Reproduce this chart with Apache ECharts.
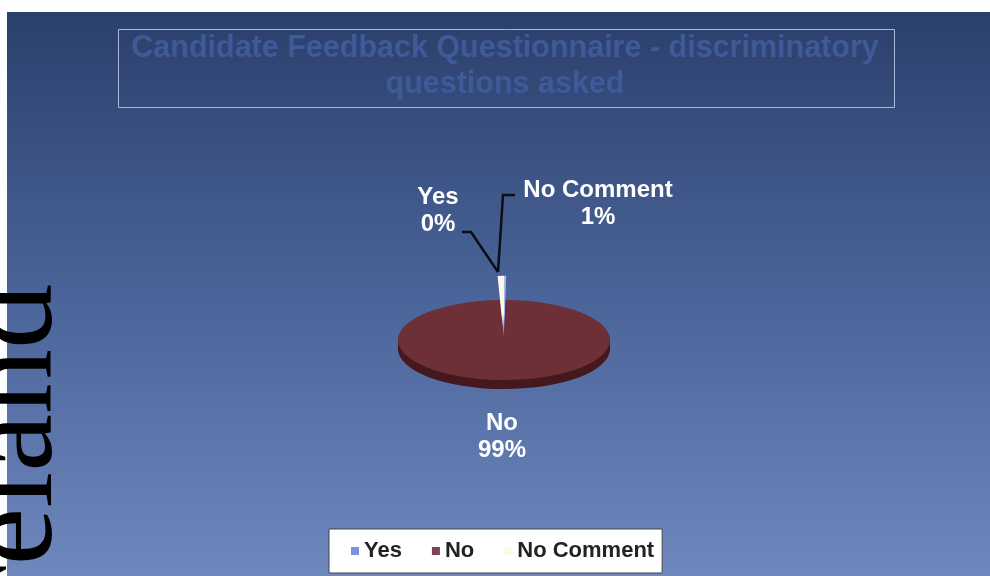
<!DOCTYPE html>
<html>
<head>
<meta charset="utf-8">
<script src="https://cdn.jsdelivr.net/npm/echarts@6/dist/echarts.min.js"></script>
<style>
html,body{margin:0;padding:0;background:#fff;}
#chart{width:990px;height:576px;}
</style>
</head>
<body>
<div id="chart"></div>
<script>
// ---- data ----
const categories = ['Yes', 'No', 'No Comment'];
const values = [0.2, 99.2, 0.6];
const titleText = 'Candidate Feedback Questionnaire - discriminatory\nquestions asked';
const sideText = 'Ireland';

// ---- styles ----
const sliceColors = ['#aab6f2', '#6c3036', '#fbf9e8'];
const legendColors = ['#8090e0', '#7a4656', '#fdfbe6'];
const sideColor = '#45191f';
const FONT = '"Liberation Sans", Arial, sans-serif';

const total = values.reduce((a, b) => a + b, 0);
const cx = 504, cy = 340, rx = 106, ry = 40, depth = 9;
const scaleY = ry / rx;

// label positions (centre of label text) and leader lines
const labelPos = [[438, 211], [502, 437], [598, 204]];
const leaders = [
  [[462, 232], [471, 232], [498, 272]],
  null,
  [[515, 195], [503, 195], [498, 272]]
];

function makeRender(idx) {
  return function (params, api) {
    const v = api.value(0);
    let before = 0;
    for (let i = 0; i < idx; i++) before += values[i];
    const a0 = -Math.PI / 2 + before / total * Math.PI * 2;
    const a1 = a0 + v / total * Math.PI * 2;
    const children = [];
    const big = v / total > 0.5;
    const r = big ? rx : 170;
    if (big) {
      for (let d = depth; d >= 1; d--) {
        children.push({
          type: 'sector',
          x: cx, y: cy + d, scaleY: scaleY,
          shape: {cx: 0, cy: 0, r0: 0, r: r, startAngle: a0, endAngle: a1},
          style: {fill: sideColor}
        });
      }
      children.push({
        type: 'sector',
        x: cx, y: cy, scaleY: scaleY,
        shape: {cx: 0, cy: 0, r0: 0, r: r, startAngle: a0, endAngle: a1},
        style: {fill: sliceColors[idx]}
      });
    } else {
      children.push({
        type: 'sector',
        x: cx, y: cy, scaleY: scaleY,
        shape: {cx: 0, cy: 0, r0: 0, r: r, startAngle: a0, endAngle: a1},
        style: {
          fill: {
            type: 'linear', x: 0, y: 0, x2: 0, y2: 1,
            colorStops: [
              {offset: 0, color: sliceColors[idx]},
              {offset: 0.6, color: sliceColors[idx]},
              {offset: 1, color: 'rgba(150,120,170,0.2)'}
            ]
          }
        }
      });
    }
    if (leaders[idx]) {
      children.push({
        type: 'polyline',
        shape: {points: leaders[idx]},
        style: {stroke: '#0d0d14', lineWidth: 2.5, fill: null}
      });
    }
    const pct = Math.round(v * 100 / total) + '%';
    children.push({
      type: 'text',
      x: labelPos[idx][0], y: labelPos[idx][1],
      style: {
        text: categories[idx] + '\n' + pct,
        fill: '#fff',
        font: 'bold 24px ' + FONT,
        lineHeight: 27,
        align: 'center',
        verticalAlign: 'middle'
      }
    });
    return {type: 'group', children: children};
  };
}

const series = categories.map((name, i) => ({
  type: 'custom',
  name: name,
  coordinateSystem: 'none',
  z: values[i] / total > 0.5 ? 2 : 3,
  itemStyle: {color: legendColors[i]},
  renderItem: makeRender(i),
  data: [[values[i]]]
}));

const chart = echarts.init(document.getElementById('chart'), null, {renderer: 'canvas'});
chart.setOption({
  animation: false,
  backgroundColor: '#fdfeff',
  title: {
    text: titleText,
    left: 505,
    top: 31,
    padding: 0,
    textAlign: 'center',
    textStyle: {
      color: '#3e5a98',
      fontFamily: FONT,
      fontWeight: 'bold',
      fontSize: 30.5,
      lineHeight: 36
    }
  },
  legend: {
    data: categories,
    left: 329,
    top: 529,
    orient: 'horizontal',
    icon: 'rect',
    itemWidth: 8,
    itemHeight: 8,
    itemGap: 30,
    backgroundColor: '#ffffff',
    borderColor: '#444',
    borderWidth: 1,
    borderRadius: 0,
    padding: [11, 8, 11, 22],
    selectedMode: false,
    textStyle: {
      fontFamily: FONT,
      fontWeight: 'bold',
      fontSize: 22,
      color: '#222'
    }
  },
  graphic: [
    {
      type: 'rect',
      z: -10,
      shape: {x: 7, y: 12, width: 983, height: 564},
      style: {
        fill: {
          type: 'linear', x: 0, y: 0, x2: 0, y2: 1,
          colorStops: [
            {offset: 0, color: '#2b3f6b'},
            {offset: 0.5, color: '#4a6499'},
            {offset: 1, color: '#6e88be'}
          ]
        }
      }
    },
    {
      type: 'rect',
      z: -5,
      shape: {x: 118.5, y: 29.5, width: 776, height: 78},
      style: {fill: null, stroke: '#a9b9d9', lineWidth: 1}
    },
    {
      type: 'text',
      z: -4,
      x: 82, y: 284,
      rotation: Math.PI / 2,
      style: {
        text: sideText,
        font: '130px "Liberation Serif", "Times New Roman", serif',
        fill: '#000',
        align: 'right',
        verticalAlign: 'bottom'
      }
    }
  ],
  series: series
});
</script>
</body>
</html>
